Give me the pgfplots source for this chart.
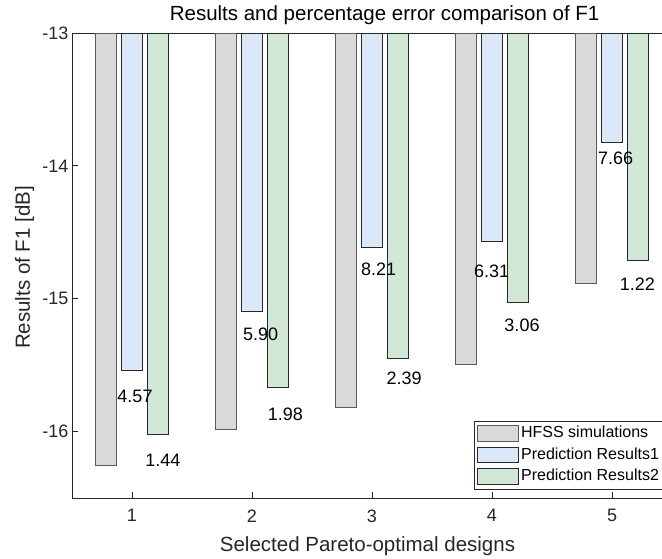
\documentclass[border=0pt]{standalone}
\usepackage{fontspec}
\setmainfont{Liberation Sans}
\usepackage{pgfplots}
\pgfplotsset{compat=1.18}

\definecolor{hfss}{RGB}{217,217,217}
\definecolor{predA}{RGB}{218,232,248}
\definecolor{predB}{RGB}{210,232,215}
\definecolor{axisgray}{RGB}{38,38,38}
\definecolor{edgegray}{RGB}{90,90,90}
\definecolor{edgedark}{RGB}{40,40,40}

\newcommand{\tickfont}{\fontsize{18bp}{21bp}\selectfont}
\newcommand{\labelfont}{\fontsize{20.5bp}{24bp}\selectfont}
\newcommand{\legendfont}{\fontsize{16bp}{19bp}\selectfont}

\pgfplotstableread{
x y
1 -16.256
2 -15.985
3 -15.820
4 -15.496
5 -14.887
}\hfsstable

\pgfplotstableread{
x y
1 -15.540
2 -15.095
3 -14.617
4 -14.571
5 -13.827
}\predonetable

\pgfplotstableread{
x y
1 -16.020
2 -15.670
3 -15.450
4 -15.030
5 -14.714
}\predtwotable

% percentage errors, written just below the bars
\pgfplotstableread{
x y label
1.025 -15.737 4.57
1.258 -16.213 1.44
2.071 -15.271 5.90
2.279 -15.872 1.98
3.056 -14.782 8.21
3.267 -15.602 2.39
3.996 -14.793 6.31
4.250 -15.199 3.06
5.031 -13.940 7.66
5.212 -14.891 1.22
}\errortable

\begin{document}
\begin{tikzpicture}
\path[use as bounding box] (0,0) rectangle (662bp,559bp);
\clip (0,0) rectangle (662bp,559bp);
\begin{axis}[
  at={(72bp,61bp)}, anchor=south west,
  scale only axis, width=600bp, height=465bp,
  xmin=0.5, xmax=5.5, ymin=-16.5, ymax=-13,
  xtick={1,2,3,4,5}, ytick={-16,-15,-14,-13},
  tick pos=left, tick align=inside,
  major tick length=6bp,
  axis line style={axisgray, line width=0.8bp},
  every tick/.style={axisgray, line width=0.8bp},
  ticklabel style={font=\tickfont, text=axisgray},
  xticklabel style={yshift=-8bp},
  /pgf/number format/assume math mode=true,
  title={Results and percentage error comparison of F1},
  title style={at={(axis description cs:0.521,1)}, anchor=base, yshift=7bp, font=\labelfont, text=black},
  xlabel={Selected Pareto-optimal designs},
  xlabel style={at={(axis description cs:0.4925,0)}, anchor=base, yshift=-53.7bp, font=\labelfont, text=axisgray},
  ylabel={Results of F1 [dB]},
  ylabel style={at={(axis description cs:-0.07,0.4957)}, anchor=base, font=\labelfont, text=axisgray},
  legend cell align=left,
  legend style={
    at={(axis description cs:0.67,0.0187)}, anchor=south west,
    draw=axisgray, line width=0.6bp, fill=white,
    inner sep=2.5bp, row sep=1.5bp,
    font=\legendfont,
    nodes={inner sep=2.5bp, text height=11.5bp, text depth=3.5bp},
  },
  legend image code/.code={\draw[#1, line width=0.8bp] (0bp,-7.8bp) rectangle (41bp,7.8bp);},
]
\addplot[ybar, bar width=21bp, bar shift=-26bp, fill=hfss, draw=edgegray, line width=0.8bp]
  table[x=x, y=y] {\hfsstable};
\addlegendentry{HFSS simulations}
\addplot[ybar, bar width=21bp, bar shift=0bp, fill=predA, draw=edgedark, line width=0.8bp]
  table[x=x, y=y] {\predonetable};
\addlegendentry{Prediction Results1}
\addplot[ybar, bar width=21bp, bar shift=26bp, fill=predB, draw=edgedark, line width=0.8bp]
  table[x=x, y=y] {\predtwotable};
\addlegendentry{Prediction Results2}

\addplot[forget plot, only marks, mark=none,
  nodes near coords, point meta=explicit symbolic,
  nodes near coords style={anchor=center, font=\tickfont, text=black, inner sep=0pt}]
  table[x=x, y=y, meta=label] {\errortable};
\end{axis}
\end{tikzpicture}
\end{document}
